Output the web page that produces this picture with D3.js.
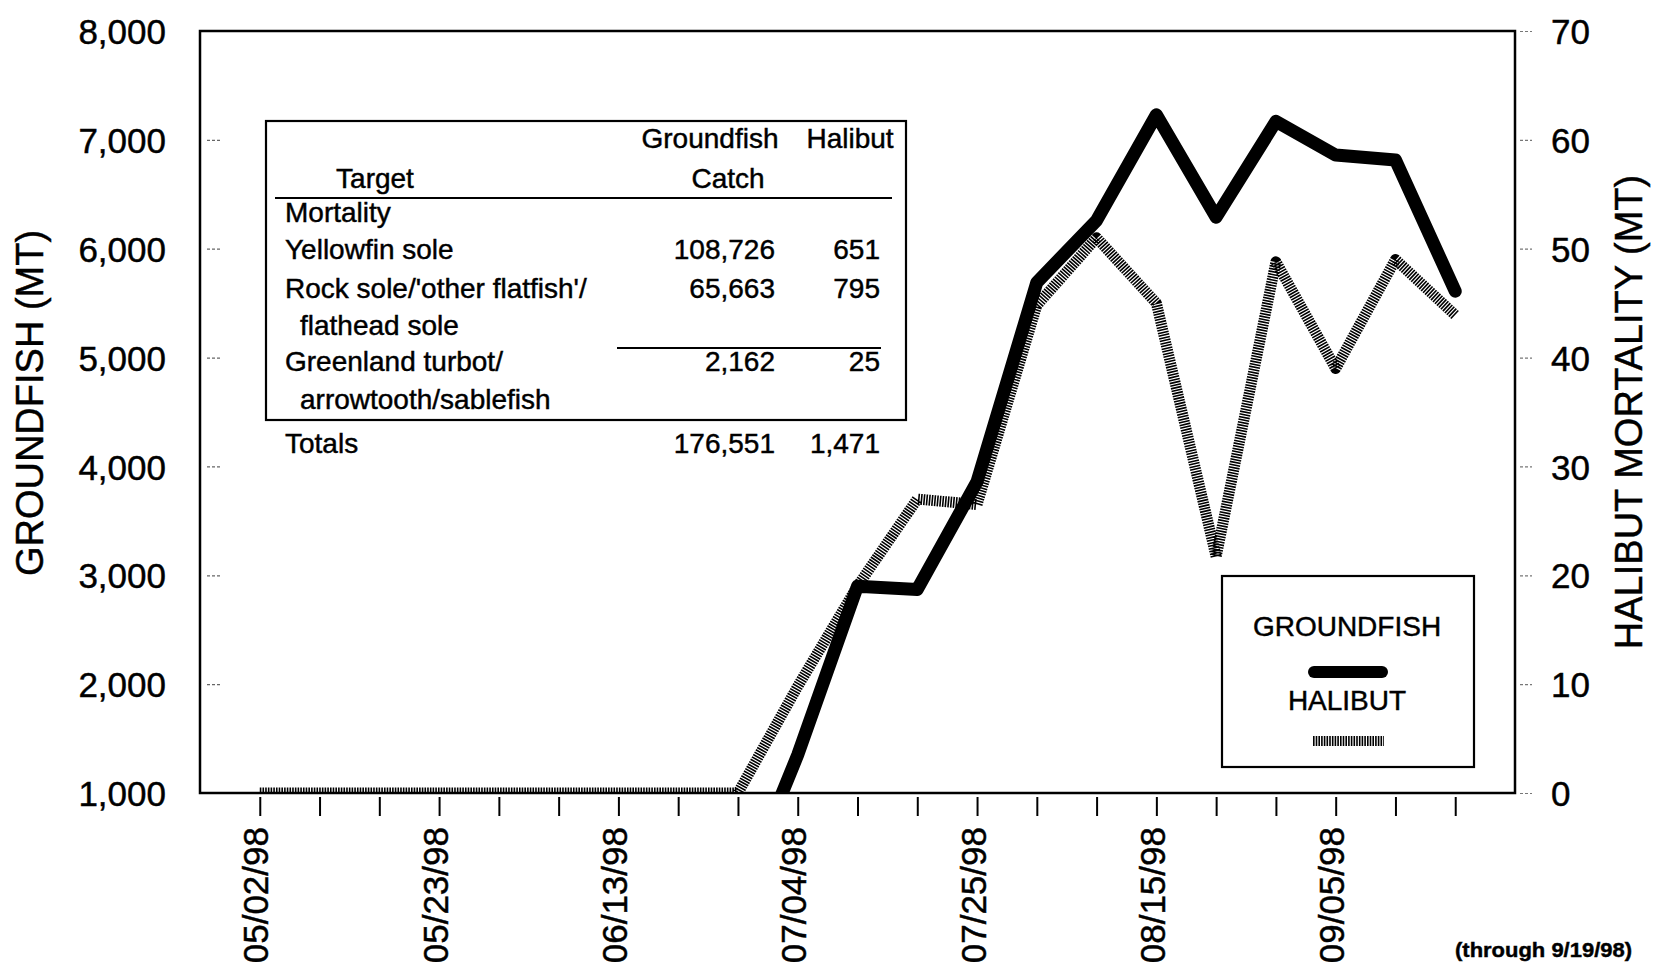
<!DOCTYPE html>
<html>
<head>
<meta charset="utf-8">
<script src="https://cdn.jsdelivr.net/npm/d3@7"></script>
<style>
  html, body { margin: 0; padding: 0; background: #fff; }
  svg { display: block; }
  text { font-family: "Liberation Sans", Arial, Helvetica, sans-serif; fill: #000; stroke: #000; stroke-width: 0.45px; }
</style>
</head>
<body>
<svg id="chart" width="1653" height="966"></svg>
<script>
// Weekly reporting periods (week ending dates)
const weeks = ["05/02/98","05/09/98","05/16/98","05/23/98","05/30/98","06/06/98","06/13/98",
               "06/20/98","06/27/98","07/04/98","07/11/98","07/18/98","07/25/98","08/01/98",
               "08/08/98","08/15/98","08/22/98","08/29/98","09/05/98","09/12/98","09/19/98"];
const labeledWeeks = ["05/02/98","05/23/98","06/13/98","07/04/98","07/25/98","08/15/98","09/05/98"];

// Groundfish catch (mt) and halibut mortality (mt) per week
const groundfish = [0,0,0,0,0,0,0,0,0,1350,2900,2870,3860,5690,6260,7230,6290,7170,6860,6815,5610];
const halibut    = [0,0,0,0,0,0,0,0,0,9.8,19,27,26.5,44.8,51,45,21.7,48.8,39,49,43.9];

const leftTicks  = [1000,2000,3000,4000,5000,6000,7000,8000];
const rightTicks = [0,10,20,30,40,50,60,70];

// Inset summary table
const tableHeader = { col1: ["Groundfish", "Catch"], col2: ["Halibut", ""], target: "Target" };
const tableRows = [
  { label: "Mortality", gf: "", hb: "" },
  { label: "Yellowfin sole", gf: "108,726", hb: "651" },
  { label: "Rock sole/'other flatfish'/", gf: "65,663", hb: "795" },
  { label: "  flathead sole", gf: "", hb: "" },
  { label: "Greenland turbot/", gf: "2,162", hb: "25" },
  { label: "  arrowtooth/sablefish", gf: "", hb: "" },
  { label: "Totals", gf: "176,551", hb: "1,471" }
];

const svg = d3.select("#chart");
const plot = { left: 200, right: 1515, top: 31, bottom: 793 };

const x = d3.scalePoint().domain(weeks).range([plot.left, plot.right]).padding(1);
const yL = d3.scaleLinear().domain([1000, 8000]).range([plot.bottom, plot.top]);
const yR = d3.scaleLinear().domain([0, 70]).range([plot.bottom, plot.top]);

svg.append("defs").append("clipPath").attr("id", "plotClip")
  .append("rect")
  .attr("x", plot.left).attr("y", plot.top)
  .attr("width", plot.right - plot.left).attr("height", plot.bottom - plot.top);

// Left axis labels
const leftAxis = d3.axisLeft(yL).tickValues(leftTicks).tickFormat(d3.format(",")).tickSize(0).tickPadding(0);
const gL = svg.append("g").attr("transform", "translate(166,0)").call(leftAxis);
gL.select(".domain").remove();
gL.selectAll("text").style("font-size", "35px").attr("dy", "0.36em");

// Faint inner ticks on the left edge
const gLi = svg.append("g").attr("transform", "translate(207,0)")
  .call(d3.axisRight(yL).tickValues(leftTicks.slice(1, -1)).tickSize(15).tickFormat(""));
gLi.select(".domain").remove();
gLi.selectAll("line").attr("stroke", "#666").attr("stroke-width", 1.2).attr("stroke-dasharray", "3 2");

// Right axis
const rightAxis = d3.axisRight(yR).tickValues(rightTicks).tickSize(12).tickPadding(19);
const gR = svg.append("g").attr("transform", `translate(${plot.right + 5},0)`).call(rightAxis);
gR.select(".domain").remove();
gR.selectAll("line").attr("stroke", "#777").attr("stroke-width", 1.2).attr("stroke-dasharray", "3 2");
gR.selectAll("text").style("font-size", "35px").attr("dy", "0.36em");

// Bottom axis: weekly ticks, every third week labelled
const bottomAxis = d3.axisBottom(x).tickSize(19).tickFormat("");
const gB = svg.append("g").attr("transform", `translate(0,${plot.bottom + 4})`).call(bottomAxis);
gB.select(".domain").remove();
gB.selectAll("line").attr("stroke", "#000").attr("stroke-width", 2);

svg.append("g").selectAll("text").data(labeledWeeks).join("text")
  .attr("transform", d => `translate(${x(d) - 4},827) rotate(-90)`)
  .attr("text-anchor", "end")
  .attr("dy", "0.36em")
  .style("font-size", "35px")
  .text(d => d);

// Axis titles
svg.append("text")
  .attr("transform", "translate(29,403) rotate(-90)")
  .attr("text-anchor", "middle").attr("dy", "0.36em")
  .style("font-size", "38px")
  .text("GROUNDFISH (MT)");

svg.append("text")
  .attr("transform", "translate(1628,412) rotate(-90)")
  .attr("text-anchor", "middle").attr("dy", "0.36em")
  .style("font-size", "38px")
  .text("HALIBUT MORTALITY (MT)");

svg.append("text")
  .attr("x", 1455).attr("y", 957)
  .attr("textLength", 177).attr("lengthAdjust", "spacingAndGlyphs")
  .style("font-size", "21px").style("font-weight", "bold")
  .text("(through 9/19/98)");

// Series
const lines = svg.append("g").attr("clip-path", "url(#plotClip)");

const halLine = d3.line().x((d, i) => x(weeks[i])).y(d => yR(d));
const gfLine = d3.line().x((d, i) => x(weeks[i])).y(d => yL(d));

lines.append("path").datum(halibut)
  .attr("d", halLine)
  .attr("fill", "none").attr("stroke", "#000")
  .attr("stroke-width", 11)
  .attr("stroke-dasharray", "1.6 1.1")
  .attr("stroke-linejoin", "round");

lines.append("path").datum(groundfish)
  .attr("d", gfLine)
  .attr("fill", "none").attr("stroke", "#000")
  .attr("stroke-width", 13)
  .attr("stroke-linejoin", "round").attr("stroke-linecap", "round");

// Plot frame
svg.append("rect")
  .attr("x", plot.left).attr("y", plot.top)
  .attr("width", plot.right - plot.left).attr("height", plot.bottom - plot.top)
  .attr("fill", "none").attr("stroke", "#000").attr("stroke-width", 2.5);

// Inset table
const tbl = svg.append("g");
tbl.append("rect").attr("x", 266).attr("y", 121).attr("width", 640).attr("height", 299)
  .attr("fill", "#fff").attr("stroke", "#000").attr("stroke-width", 2.2);
const fs = "28px";
tbl.append("text").attr("x", 710).attr("y", 148).attr("text-anchor", "middle").style("font-size", fs).text(tableHeader.col1[0]);
tbl.append("text").attr("x", 850).attr("y", 148).attr("text-anchor", "middle").style("font-size", fs).text(tableHeader.col2[0]);
tbl.append("text").attr("x", 375).attr("y", 188).attr("text-anchor", "middle").style("font-size", fs).text(tableHeader.target);
tbl.append("text").attr("x", 728).attr("y", 188).attr("text-anchor", "middle").style("font-size", fs).text(tableHeader.col1[1]);
tbl.append("line").attr("x1", 275).attr("x2", 892).attr("y1", 198).attr("y2", 198).attr("stroke", "#000").attr("stroke-width", 2);
tbl.append("line").attr("x1", 617).attr("x2", 881).attr("y1", 348).attr("y2", 348).attr("stroke", "#000").attr("stroke-width", 2);

const rowBase = [222, 259, 298, 335, 371, 409, 453];
tableRows.forEach((r, i) => {
  const indent = r.label.startsWith("  ");
  tbl.append("text").attr("x", indent ? 300 : 285).attr("y", rowBase[i]).style("font-size", fs).text(r.label.trim());
  if (r.gf) tbl.append("text").attr("x", 775).attr("y", rowBase[i]).attr("text-anchor", "end").style("font-size", fs).text(r.gf);
  if (r.hb) tbl.append("text").attr("x", 880).attr("y", rowBase[i]).attr("text-anchor", "end").style("font-size", fs).text(r.hb);
});

// Legend
const lg = svg.append("g");
lg.append("rect").attr("x", 1222).attr("y", 576).attr("width", 252).attr("height", 191)
  .attr("fill", "#fff").attr("stroke", "#000").attr("stroke-width", 2.2);
lg.append("text").attr("x", 1347).attr("y", 636).attr("text-anchor", "middle").style("font-size", "28px").text("GROUNDFISH");
lg.append("line").attr("x1", 1314).attr("x2", 1382).attr("y1", 672).attr("y2", 672)
  .attr("stroke", "#000").attr("stroke-width", 12).attr("stroke-linecap", "round");
lg.append("text").attr("x", 1347).attr("y", 710).attr("text-anchor", "middle").style("font-size", "28px").text("HALIBUT");
lg.append("line").attr("x1", 1313).attr("x2", 1384).attr("y1", 741).attr("y2", 741)
  .attr("stroke", "#000").attr("stroke-width", 10).attr("stroke-dasharray", "1.6 1.1");
</script>
</body>
</html>
